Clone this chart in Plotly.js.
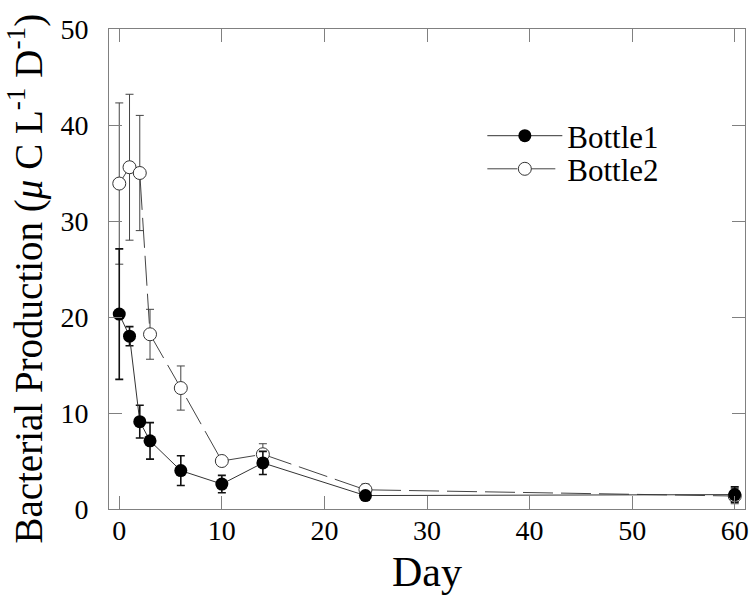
<!DOCTYPE html>
<html>
<head>
<meta charset="utf-8">
<script src="https://cdn.plot.ly/plotly-3.0.1.min.js"></script>
<style>html,body{margin:0;padding:0;background:#fff;}</style>
</head>
<body>
<div id="chart" style="width:750px;height:595px;"></div>
<script>
const days = [0, 1, 2, 3, 6, 10, 14, 24, 60];
const bottle1 = [20.3, 18.0, 9.1, 7.1, 4.0, 2.6, 4.8, 1.4, 1.5];
const bottle1Err = [6.8, 1.0, 1.7, 1.9, 1.55, 0.9, 1.2, 0.4, 0.8];
const bottle2 = [33.9, 35.6, 35.0, 18.2, 12.6, 5.0, 5.7, 2.0, 1.35];
const bottle2Err = [8.4, 7.6, 6.0, 2.6, 2.3, 0.4, 1.1, 0.6, 0.8];
const xTicks = [0, 10, 20, 30, 40, 50, 60];
const yTicks = [0, 10, 20, 30, 40, 50];

const SERIF = 'Liberation Serif, serif';

const traces = [
  {
    x: days, y: bottle2, name: 'Bottle2', type: 'scatter', mode: 'lines+markers',
    legend: 'legend2',
    line: {color: '#444', width: 1, dash: '30px,8px'},
    marker: {symbol: 'circle', size: 13, color: '#fff', line: {width: 1, color: '#333'}},
    error_y: {type: 'data', array: bottle2Err, visible: true, color: '#444', thickness: 1, width: 4}
  },
  {
    x: days, y: bottle1, name: 'Bottle1', type: 'scatter', mode: 'lines+markers',
    legend: 'legend',
    line: {color: '#333', width: 1},
    marker: {symbol: 'circle', size: 13, color: '#000'},
    error_y: {type: 'data', array: bottle1Err, visible: true, color: '#111', thickness: 1.6, width: 4}
  }
];

const axisCommon = {
  showline: true, linecolor: '#808080', linewidth: 1, mirror: 'ticks',
  ticks: 'inside', ticklen: 13, tickwidth: 1, tickcolor: '#808080',
  showgrid: false, zeroline: false,
  tickfont: {family: SERIF, size: 28, color: '#000'}
};

const legendCommon = {
  xanchor: 'left', yanchor: 'middle', bgcolor: 'rgba(0,0,0,0)', itemwidth: 75,
  font: {family: SERIF, size: 31, color: '#000'}
};

const layout = {
  width: 750, height: 595,
  margin: {l: 109, r: 5, t: 29, b: 86},
  paper_bgcolor: '#fff', plot_bgcolor: '#fff',
  font: {family: SERIF, color: '#000'},
  showlegend: true,
  legend: Object.assign({}, legendCommon, {x: 0.587, y: 0.777}),
  legend2: Object.assign({}, legendCommon, {x: 0.587, y: 0.708}),
  xaxis: Object.assign({}, axisCommon, {
    range: [-1, 61], tickvals: xTicks, ticktext: xTicks.map(String),
    ticklabelstandoff: -4,
    title: {text: 'Day', font: {family: SERIF, size: 42, color: '#000'}, standoff: 12}
  }),
  yaxis: Object.assign({}, axisCommon, {
    range: [0, 50], tickvals: yTicks, ticktext: yTicks.map(String),
    ticklabelstandoff: 14
  }),
  annotations: [{
    text: 'Bacterial Production (<i>μ</i> C L<sup>-1</sup> D<sup>-1</sup>)',
    xref: 'paper', yref: 'paper', x: 0, y: 0.48, xanchor: 'center', yanchor: 'middle',
    xshift: -83, textangle: -90, showarrow: false,
    font: {family: SERIF, size: 39, color: '#000'}
  }]
};

Plotly.newPlot('chart', traces, layout, {displayModeBar: false, staticPlot: true});
</script>
</body>
</html>
